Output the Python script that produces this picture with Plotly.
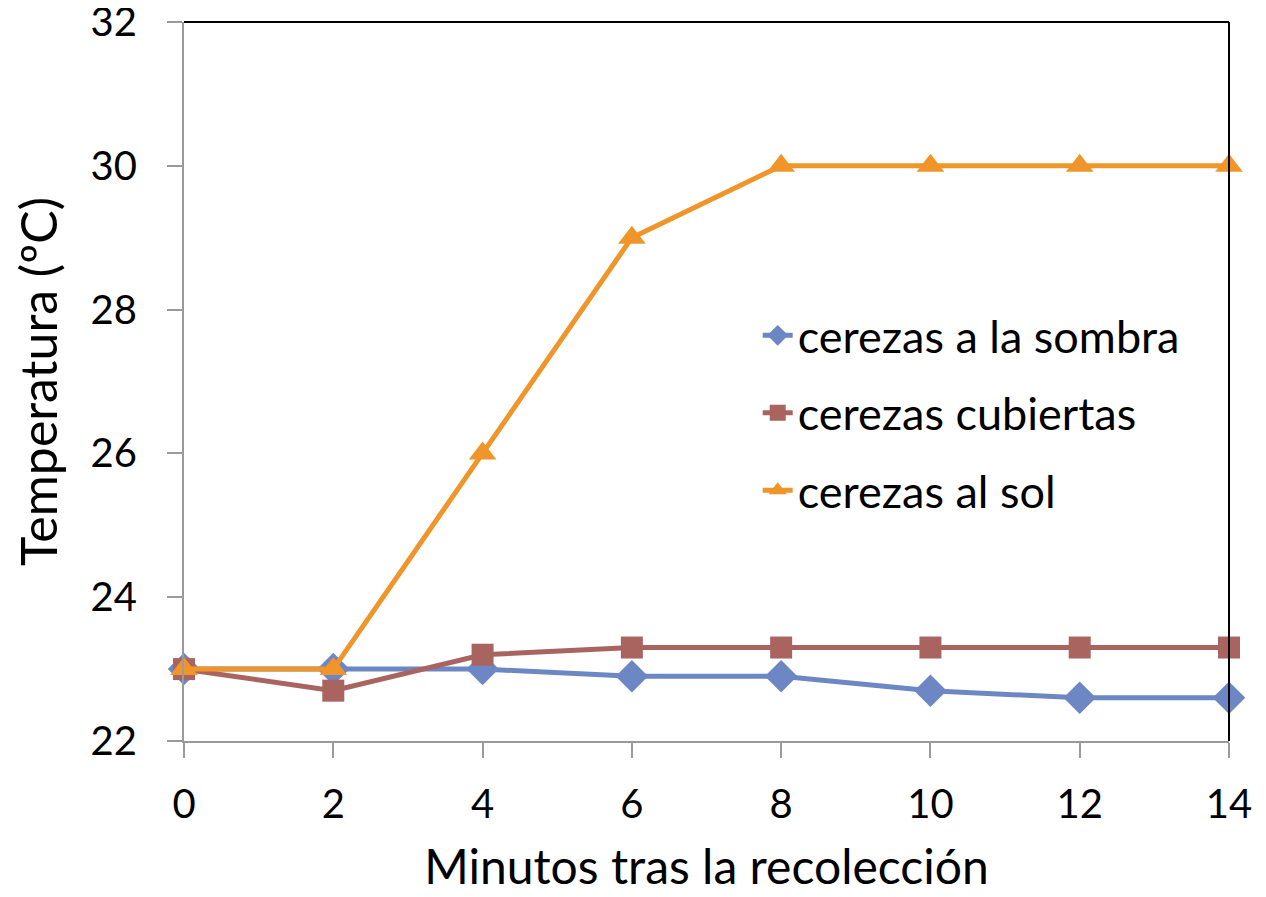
import plotly.graph_objects as go

minutos = [0, 2, 4, 6, 8, 10, 12, 14]
sombra = [23, 23, 23, 22.9, 22.9, 22.7, 22.6, 22.6]
cubiertas = [23, 22.7, 23.2, 23.3, 23.3, 23.3, 23.3, 23.3]
sol = [23, 23, 26, 29, 30, 30, 30, 30]

FONT = "Lato"

series = [
    ("cerezas a la sombra", sombra, "#6D87C4", "diamond", 25),
    ("cerezas cubiertas", cubiertas, "#AA6460", "square", 22),
    ("cerezas al sol", sol, "#EF9529", "triangle-up", 24),
]

fig = go.Figure()
for i, (name, vals, color, symbol, size) in enumerate(series):
    fig.add_trace(go.Scatter(
        x=minutos, y=vals, name=name, mode="lines+markers",
        line=dict(color=color, width=5),
        marker=dict(symbol=symbol, size=size, color=color),
        cliponaxis=False, legendgroup=f"g{i}",
    ))

fig.update_layout(
    width=1266, height=897,
    paper_bgcolor="white", plot_bgcolor="white",
    font=dict(family=FONT, size=40, color="black"),
    margin=dict(l=176, r=45, t=14, b=164),
    showlegend=True,
    legend=dict(x=0.549, y=0.614, xanchor="left", yanchor="top",
                bgcolor="rgba(0,0,0,0)", tracegroupgap=16,
                font=dict(size=45)),
    xaxis=dict(range=[0, 14], dtick=2, showgrid=False, zeroline=False,
               showline=True, linecolor="#9a9a9a", linewidth=2,
               ticks="outside", ticklen=15, tickcolor="#9a9a9a", tickwidth=2,
               automargin=False, ticklabelstandoff=12,
               title=dict(text="Minutos tras la recolección", standoff=24,
                          font=dict(size=48))),
    yaxis=dict(range=[22, 32], dtick=2, showgrid=False, zeroline=False,
               showline=True, linecolor="#9a9a9a", linewidth=2,
               ticks="outside", ticklen=15, tickcolor="#9a9a9a", tickwidth=2,
               automargin=False, ticklabelstandoff=22,
               ticklabeloverflow="allow",
               title=dict(text="Temperatura (ºC)", standoff=35,
                          font=dict(size=50))),
)

# black frame on top and right of the plot area
fig.add_shape(type="line", xref="x domain", yref="y domain",
              x0=0, x1=1, y0=1, y1=1, line=dict(color="black", width=2))
fig.add_shape(type="line", xref="x domain", yref="y domain",
              x0=1, x1=1, y0=0, y1=1, line=dict(color="black", width=2))

fig.write_html("out.html")
